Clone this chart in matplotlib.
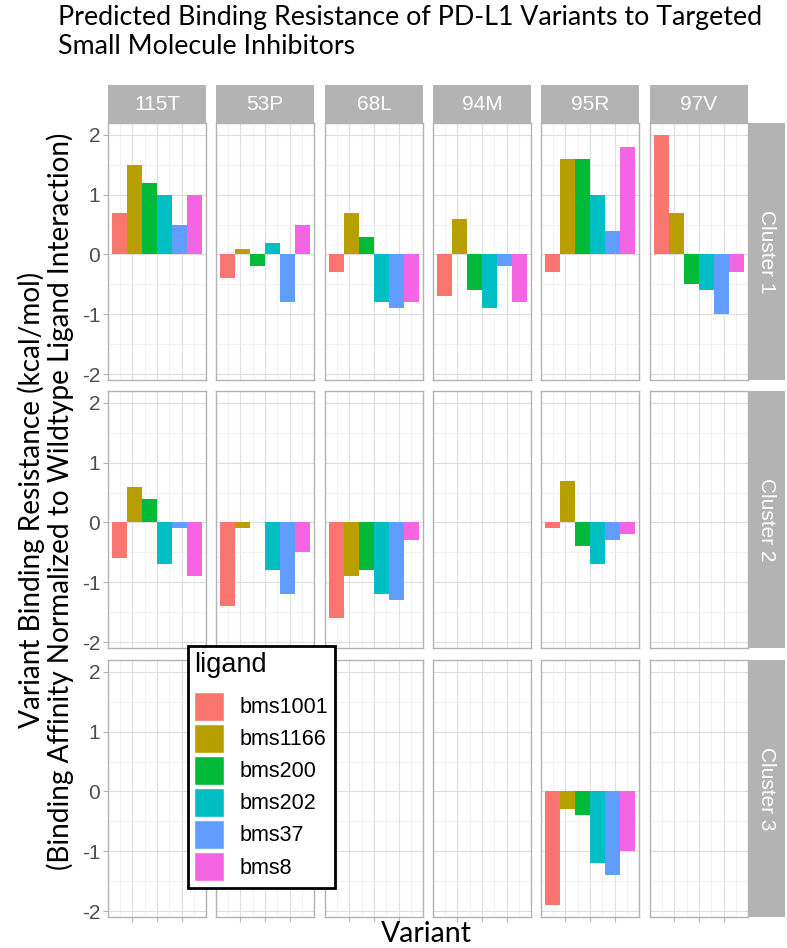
import numpy as np
import matplotlib.pyplot as plt
from matplotlib.patches import Patch, Rectangle
from matplotlib.legend_handler import HandlerPatch

variants = ['115T', '53P', '68L', '94M', '95R', '97V']
clusters = ['Cluster 1', 'Cluster 2', 'Cluster 3']
ligands = ['bms1001', 'bms1166', 'bms200', 'bms202', 'bms37', 'bms8']
colors = ['#F8766D', '#B79F00', '#00BA38', '#00BFC4', '#619CFF', '#F564E3']

nan = np.nan
# rows = variants, columns = ligands
cluster1 = [[0.7, 1.5, 1.2, 1.0, 0.5, 1.0],
            [-0.4, 0.1, -0.2, 0.2, -0.8, 0.5],
            [-0.3, 0.7, 0.3, -0.8, -0.9, -0.8],
            [-0.7, 0.6, -0.6, -0.9, -0.2, -0.8],
            [-0.3, 1.6, 1.6, 1.0, 0.4, 1.8],
            [2.0, 0.7, -0.5, -0.6, -1.0, -0.3]]
cluster2 = [[-0.6, 0.6, 0.4, -0.7, -0.1, -0.9],
            [-1.4, -0.1, nan, -0.8, -1.2, -0.5],
            [-1.6, -0.9, -0.8, -1.2, -1.3, -0.3],
            [nan, nan, nan, nan, nan, nan],
            [-0.1, 0.7, -0.4, -0.7, -0.3, -0.2],
            [nan, nan, nan, nan, nan, nan]]
cluster3 = [[nan, nan, nan, nan, nan, nan],
            [nan, nan, nan, nan, nan, nan],
            [nan, nan, nan, nan, nan, nan],
            [nan, nan, nan, nan, nan, nan],
            [-1.9, -0.3, -0.4, -1.2, -1.4, -1.0],
            [nan, nan, nan, nan, nan, nan]]
values = [cluster1, cluster2, cluster3]

W, H = 787, 948
fig = plt.figure(figsize=(W / 100, H / 100), dpi=100)
sans = ['Liberation Sans', 'DejaVu Sans']
calib = ['Lato', 'DejaVu Sans']


def px_axes(x, y, w, h):
    return fig.add_axes([x / W, 1 - (y + h) / H, w / W, h / H])


col_left = [108, 216, 325, 433, 541, 650]
row_top = [123, 391, 660]
pw, ph = 98, 257
grey = '#B3B3B3'

xpos = 1 + (np.arange(len(ligands)) - 2.5) * 0.15

for r, cl in enumerate(clusters):
    for c, var in enumerate(variants):
        ax = px_axes(col_left[c], row_top[r], pw, ph)
        ax.bar(xpos, values[r][c], width=0.15, color=colors, zorder=3)
        ax.set_xlim(0.505, 1.495)
        ax.set_ylim(-2.095, 2.195)
        ax.set_xticks([0.75, 1.0, 1.25])
        ax.set_xticks([0.625, 0.875, 1.125, 1.375], minor=True)
        ax.set_yticks([-2, -1, 0, 1, 2])
        ax.set_yticks([-1.5, -0.5, 0.5, 1.5], minor=True)
        ax.grid(which='major', color='#DEDEDE', lw=0.8, zorder=0)
        ax.grid(which='minor', color='#EDEDED', lw=0.5, zorder=0)
        ax.set_axisbelow(True)
        for s in ax.spines.values():
            s.set_color(grey)
            s.set_linewidth(1.0)
        ax.tick_params(which='minor', length=0)
        ax.tick_params(which='major', length=3.5, color=grey, width=0.8,
                       labelsize=15, labelcolor='#4D4D4D', pad=2)
        ax.set_xticklabels([])
        if r != 2:
            ax.tick_params(axis='x', length=0)
        if c == 0:
            ax.set_yticklabels(['-2', '-1', '0', '1', '2'], family=sans)
        else:
            ax.tick_params(axis='y', length=0)
            ax.set_yticklabels([])

        if r == 0:
            st = px_axes(col_left[c], 85, pw, 38)
            st.set_facecolor(grey)
            st.set_xticks([])
            st.set_yticks([])
            for s in st.spines.values():
                s.set_visible(False)
            st.text(0.5, 0.5, var, color='white', fontsize=15, family=sans,
                    ha='center', va='center', transform=st.transAxes)

    st = px_axes(748, row_top[r], 37, ph)
    st.set_facecolor(grey)
    st.set_xticks([])
    st.set_yticks([])
    for s in st.spines.values():
        s.set_visible(False)
    st.text(0.5, 0.5, cl, color='white', fontsize=15, family=sans, rotation=-90,
            ha='center', va='center', transform=st.transAxes)

# titles
fig.text(58 / W, 1 - 18 / H, 'Predicted Binding Resistance of PD-L1 Variants to Targeted',
         fontsize=19.3, family=calib, ha='left', va='center')
fig.text(58 / W, 1 - 47 / H, 'Small Molecule Inhibitors',
         fontsize=19.3, family=calib, ha='left', va='center')
fig.text(31 / W, 1 - 500 / H, 'Variant Binding Resistance (kcal/mol)',
         fontsize=20.2, family=calib, rotation=90, ha='center', va='center')
fig.text(60 / W, 1 - 501 / H, '(Binding Affinity Normalized to Wildtype Ligand Interaction)',
         fontsize=20.2, family=calib, rotation=90, ha='center', va='center')
fig.text(426 / W, 1 - 934 / H, 'Variant', fontsize=20.5, family=calib,
         ha='center', va='center')


def full_key(legend, orig_handle, xdescent, ydescent, width, height, fontsize):
    return Rectangle((-xdescent, -ydescent), width, height)


handles = [Patch(facecolor=col, edgecolor='white', lw=1) for col in colors]
leg = fig.legend(handles, ligands, title='ligand', loc='upper left',
                 bbox_to_anchor=(188 / W, 1 - 646 / H), frameon=True,
                 fancybox=False, edgecolor='black', framealpha=1,
                 prop={'family': sans, 'size': 15.5},
                 title_fontproperties={'family': sans, 'size': 19.5},
                 handlelength=1.35, handleheight=1.7, labelspacing=0.14,
                 handletextpad=0.74, borderpad=0.3, borderaxespad=0,
                 alignment='left',
                 handler_map={Patch: HandlerPatch(patch_func=full_key)})
leg.get_frame().set_linewidth(2)
# a little more room between the title and the keys
leg._legend_box.sep = 9.5

fig.savefig('out.png', dpi=100)
